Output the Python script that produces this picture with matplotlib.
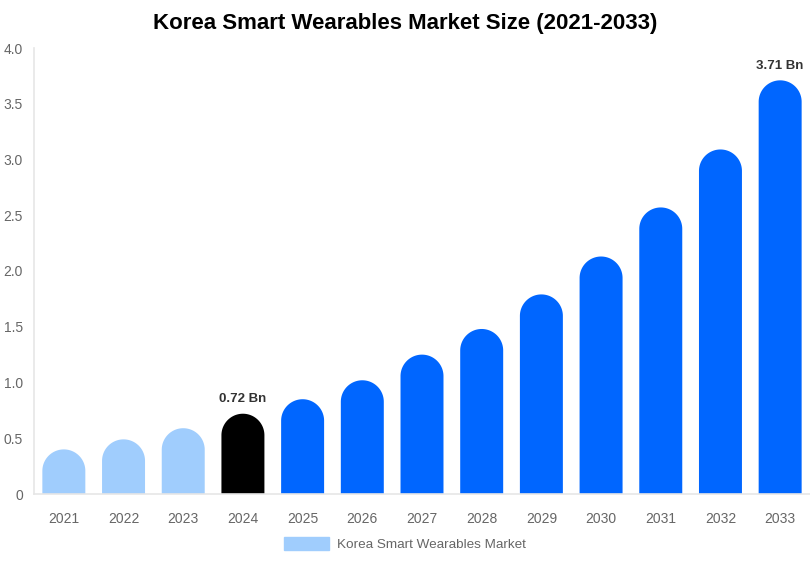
import numpy as np
import matplotlib
matplotlib.use("Agg")
import matplotlib.pyplot as plt
from matplotlib.patches import Polygon, Patch

plt.rcParams['font.family'] = ['Liberation Sans', 'DejaVu Sans']

# data
years = ["2021", "2022", "2023", "2024", "2025", "2026", "2027",
         "2028", "2029", "2030", "2031", "2032", "2033"]
market_size = [0.40, 0.49, 0.59, 0.72, 0.85, 1.02, 1.25,
               1.48, 1.79, 2.13, 2.57, 3.09, 3.71]
bar_colors = ["#a0cdfd"] * 3 + ["#000000"] + ["#0066ff"] * 9
labels = {3: "0.72 Bn", 12: "3.71 Bn"}

W, H = 810, 562
fig = plt.figure(figsize=(W / 100, H / 100), dpi=100)
ax_l, ax_r, ax_t, ax_b = 34, 810, 48, 494
ax = fig.add_axes([ax_l / W, (H - ax_b) / H, (ax_r - ax_l) / W, (ax_b - ax_t) / H])

ymax = 4.0
n = len(years)
ax.set_xlim(-0.5, n - 0.5)
ax.set_ylim(0, ymax)

bw = 0.72
px_per_x = (ax_r - ax_l) / n
px_per_y = (ax_b - ax_t) / ymax
ry = (bw / 2) * px_per_x / px_per_y  # cap radius in y data units

# bars with rounded tops, one polygon each
theta = np.linspace(np.pi, 0, 60)
for i, (v, c) in enumerate(zip(market_size, bar_colors)):
    cap_x = i + (bw / 2) * np.cos(theta)
    cap_y = (v - ry) + ry * np.sin(theta)
    xs = np.concatenate([[i - bw / 2], cap_x, [i + bw / 2]])
    ys = np.concatenate([[0], cap_y, [0]])
    ax.add_patch(Polygon(np.column_stack([xs, ys]), closed=True,
                         facecolor=c, edgecolor='none'))
    if i in labels:
        ax.text(i, v + 0.075, labels[i], ha='center', va='bottom',
                fontsize=9.5, fontweight='bold', color='#333333')

ax.set_xticks(range(n))
ax.set_xticklabels(years)
ax.set_yticks([0, 0.5, 1.0, 1.5, 2.0, 2.5, 3.0, 3.5, 4.0])
ax.set_yticklabels(["0", "0.5", "1.0", "1.5", "2.0", "2.5", "3.0", "3.5", "4.0"])
ax.tick_params(axis='both', length=0, labelsize=10, labelcolor='#666666')
ax.tick_params(axis='x', pad=13)
ax.tick_params(axis='y', pad=8)

for s in ['top', 'right']:
    ax.spines[s].set_visible(False)
for s in ['left', 'bottom']:
    ax.spines[s].set_color('#e6e6e6')
    ax.spines[s].set_linewidth(1.2)

fig.text(0.5, 1 - 24 / H, "Korea Smart Wearables Market Size (2021-2033)",
         ha='center', va='center', fontsize=16, fontweight='bold', color='#000000')

leg = fig.legend(handles=[Patch(color="#a0cdfd", label="Korea Smart Wearables Market")],
                 loc='center', bbox_to_anchor=(405 / W, 1 - 544 / H), frameon=False,
                 fontsize=9.7, handlelength=3.3, handleheight=1.1, handletextpad=0.6)
for t in leg.get_texts():
    t.set_color('#666666')

fig.savefig("out.png", dpi=100)
